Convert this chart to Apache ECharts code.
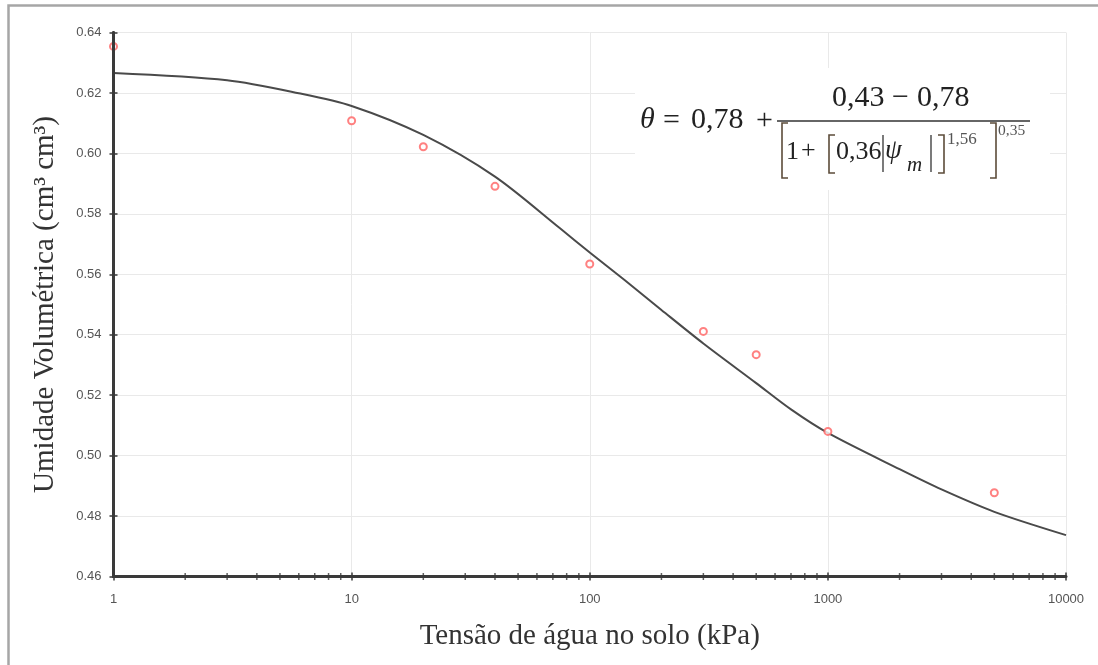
<!DOCTYPE html>
<html>
<head>
<meta charset="utf-8">
<title>Curva de retenção</title>
<script src="https://cdn.jsdelivr.net/npm/echarts@6.0.0/dist/echarts.min.js"></script>
<style>
html,body{margin:0;padding:0;background:#fff;}
#main{width:1098px;height:665px;}
</style>
</head>
<body>
<div id="main"></div>
<script>
// pontos observados (kPa, cm3/cm3)
var obsTension = [1, 10, 20, 40, 100, 300, 500, 1000, 5000];
var obsTheta = [0.6354, 0.6108, 0.6022, 0.5891, 0.5634, 0.5411, 0.5334, 0.5080, 0.4877];

// curva ajustada
var fitTension = [1, 3, 6, 10, 20, 40, 75, 100, 140, 200, 300, 500, 700, 1000, 2000, 3000, 5000, 10000];
var fitTheta = [0.6266, 0.6242, 0.6199, 0.6157, 0.6061, 0.5923, 0.5752, 0.5672, 0.5581, 0.5482, 0.5371, 0.5240, 0.5153, 0.5075, 0.4955, 0.4888, 0.4814, 0.4737];

// marcas menores do eixo log
var minorTicks = [2,3,4,5,6,7,8,9, 20,30,40,50,60,70,80,90, 200,300,400,500,600,700,800,900, 2000,3000,4000,5000,6000,7000,8000,9000];

var xTitle = "Tensão de água no solo (kPa)";
var yTitle = "Umidade Volumétrica (cm³ cm³)";

var serif = "'Liberation Serif', 'Times New Roman', serif";
var sans = "'Liberation Sans', Arial, sans-serif";

function pairs(xs, ys) {
	var out = [];
	for (var i = 0; i < xs.length; i++) out.push([xs[i], ys[i]]);
	return out;
}

// texto da equacao
function txt(s, x, y, size, italic, color) {
	return {
		type: 'text', z: 101,
		style: {
			text: s, x: x, y: y,
			font: (italic ? 'italic ' : '') + size + 'px ' + serif,
			fill: color || '#222',
			verticalAlign: 'middle'
		}
	};
}
function bracket(x0, x1, y0, y1) {
	return {
		type: 'polyline', z: 101,
		shape: {points: [[x1, y0], [x0, y0], [x0, y1], [x1, y1]]},
		style: {stroke: '#5c4c3a', lineWidth: 1.6, fill: null}
	};
}
function vline(x, y0, y1) {
	return {
		type: 'line', z: 101,
		shape: {x1: x, y1: y0, x2: x, y2: y1},
		style: {stroke: '#333', lineWidth: 1.3}
	};
}

var eq = [
	{type: 'rect', z: 100, shape: {x: 635, y: 68, width: 415, height: 122}, style: {fill: '#fff'}},
	txt('θ', 640, 120, 30, true),
	txt('=', 663, 121, 30),
	txt('0,78', 691, 120, 30),
	txt('+', 756, 121, 30),
	{type: 'line', z: 101, shape: {x1: 777, y1: 121, x2: 1030, y2: 121}, style: {stroke: '#333', lineWidth: 1.5}},
	txt('0,43', 832, 98, 30),
	txt('−', 892, 98, 30),
	txt('0,78', 917, 98, 30),
	bracket(782, 788, 123, 178),
	txt('1', 786, 152, 26),
	txt('+', 801, 151, 26),
	bracket(829, 835, 135, 173),
	txt('0,36', 836, 152, 26),
	vline(883, 135, 172),
	txt('ψ', 885, 151, 27, true),
	txt('m', 907, 165, 21, true),
	vline(931, 135, 172),
	bracket(944, 938, 135, 173),
	txt('1,56', 947, 140, 17, false, '#555'),
	bracket(996, 990, 123, 178),
	txt('0,35', 998, 131, 15.5, false, '#555')
];

var option = {
	animation: false,
	backgroundColor: '#fff',
	grid: {left: 113.5, right: 32, top: 32.5, bottom: 88.5},
	graphic: [{
		type: 'rect', z: 0,
		shape: {x: 8.5, y: 5.5, width: 1300, height: 900},
		style: {fill: null, stroke: '#a6a6a6', lineWidth: 2.5}
	}].concat(eq),
	xAxis: [{
		type: 'log', logBase: 10, min: 1, max: 10000,
		name: xTitle, nameLocation: 'middle', nameGap: 45,
		nameTextStyle: {fontFamily: serif, fontSize: 29, color: '#333'},
		axisLine: {lineStyle: {color: '#3a3a3a', width: 3}},
		axisTick: {length: 4, lineStyle: {color: '#3a3a3a', width: 1.5}},
		axisLabel: {fontFamily: sans, fontSize: 13, color: '#555', margin: 16,
			formatter: function(v) { return String(Math.round(v)); }},
		splitLine: {show: true, lineStyle: {color: '#e9e9e9', width: 1}}
	}, {
		type: 'log', logBase: 10, min: 1, max: 10000, position: 'bottom', z: 5,
		axisLine: {show: false},
		axisTick: {inside: true, length: 4, lineStyle: {color: '#3a3a3a', width: 1.5}},
		axisLabel: {show: false},
		splitLine: {show: false}
	}],
	yAxis: [{
		type: 'value', min: 0.46, max: 0.64, interval: 0.02,
		name: yTitle, nameLocation: 'middle', nameGap: 54,
		nameTextStyle: {fontFamily: serif, fontSize: 29, color: '#333'},
		axisLine: {show: true, lineStyle: {color: '#3a3a3a', width: 3}},
		axisTick: {show: true, length: 4, lineStyle: {color: '#3a3a3a', width: 1.5}},
		axisLabel: {fontFamily: sans, fontSize: 13, color: '#555', margin: 12,
			formatter: function(v) { return v.toFixed(2); }},
		splitLine: {show: true, lineStyle: {color: '#e9e9e9', width: 1}}
	}, {
		type: 'value', min: 0.46, max: 0.64, interval: 0.02, position: 'left', offset: 0, z: 5,
		axisLine: {show: true, lineStyle: {color: '#3a3a3a', width: 3}},
		axisTick: {show: true, inside: true, length: 4, lineStyle: {color: '#3a3a3a', width: 1.5}},
		axisLabel: {show: false},
		splitLine: {show: false}
	}],
	series: [{
		name: 'ajuste',
		type: 'line',
		data: pairs(fitTension, fitTheta),
		smooth: 0.3,
		symbol: 'none',
		lineStyle: {color: '#4a4a4a', width: 2},
		z: 2
	}, {
		name: 'observado',
		type: 'scatter',
		data: pairs(obsTension, obsTheta),
		symbol: 'emptyCircle',
		symbolSize: 7,
		itemStyle: {color: '#ff6262', borderWidth: 1.5},
		z: 3
	}, {
		name: 'marcas',
		type: 'scatter',
		data: minorTicks.map(function(v) { return [v, 0.46]; }),
		symbol: 'rect',
		symbolSize: [1.5, 7],
		itemStyle: {color: '#3a3a3a'},
		silent: true,
		clip: false,
		z: 6
	}]
};

var myChart = echarts.init(document.getElementById('main'));
myChart.setOption(option);
</script>
</body>
</html>
